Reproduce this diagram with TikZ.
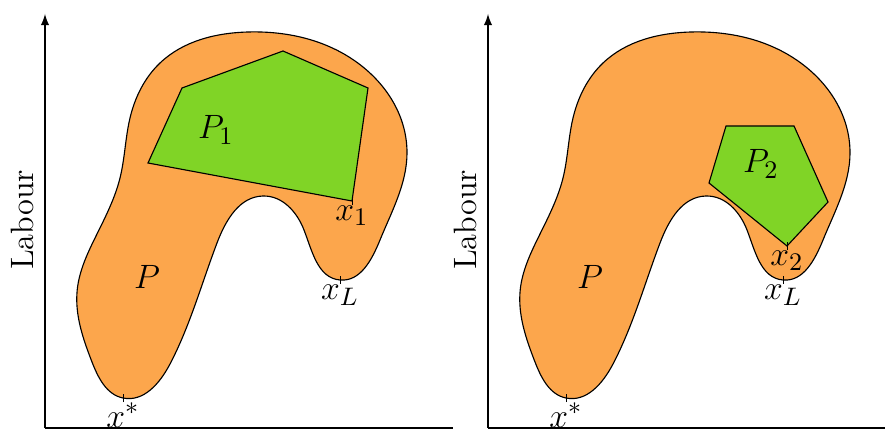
\documentclass[11pt,tikz,border=0pt]{standalone}
\definecolor{setorange}{RGB}{252, 166, 76}
\definecolor{setgreen}{RGB}{128, 212, 38}
\usepackage{amsmath}
\usetikzlibrary{hobby}

% outline of the feasible set P, drawn in both panels
\newcommand{\blobP}{([closed]3.075,0.9) .. (4.25,1.75) .. (5.425,4.775) .. (6.575,5.95)
  .. (7.6,5.1) .. (8.5,3.85) .. (9.5,4.85) .. (10.175,7.025) .. (8.6,9.5)
  .. (6.2,10.05) .. (4.0,9.275) .. (3.25,7.9) .. (3.0,6.4) .. (2.4,4.95)
  .. (1.93,3.6) .. (2.3,1.8)}

\tikzset{
  axis/.style={thin, -latex},
  region/.style={fill=setorange, draw=black, thin, use Hobby shortcut},
  subregion/.style={fill=setgreen, draw=black, thin},
  tick/.style={very thin},
  lbl/.style={font=\fontsize{13pt}{16pt}\selectfont},
  axislbl/.style={rotate=90, font=\fontsize{11.5pt}{14pt}\selectfont},
}

\begin{document}
\begin{tikzpicture}[scale=0.5]
  \useasboundingbox (0,0) rectangle (22.125,10.85);

  % left panel
  \coordinate (O1) at (1.125,0.15);
  \coordinate (Y1) at (1.125,10.5);
  \coordinate (X1) at (11.325,0.15);
  \draw[axis] (O1) -- (Y1);
  \draw[thin] (O1) -- (X1);
  \node[axislbl] (lab1) at (0.55,5.35) {Labour};
  \draw[region] \blobP;
  \coordinate (xs1) at (3.075,0.9);
  \coordinate (xL1) at (8.5,3.85);
  \coordinate (v1) at (8.8,5.825);
  \draw[subregion] (4.55,8.65) -- (7.075,9.575) -- (9.2,8.65) -- (v1) -- (3.7,6.775) -- cycle;
  \draw[tick] (xs1) ++(0,-0.1) -- ++(0,0.2);
  \draw[tick] (xL1) ++(0,-0.1) -- ++(0,0.2);
  \draw[tick] (v1) ++(0,-0.1) -- ++(0,0.2);
  \node[lbl] (P1) at (5.4,7.6) {$P_1$};
  \node[lbl] (P) at (3.675,3.925) {$P$};
  \node[lbl, below=-2pt] (xsl1) at (xs1) {$x^*$};
  \node[lbl, below=-2pt] (xLl1) at (xL1) {$x_L$};
  \node[lbl, below=-2pt] (x1l) at (v1) {$x_1$};

  % right panel
  \begin{scope}[shift={(11.075,0)}]
    \coordinate (O2) at (1.125,0.15);
    \coordinate (Y2) at (1.125,10.5);
    \coordinate (X2) at (11.05,0.15);
    \draw[axis] (O2) -- (Y2);
    \draw[thin] (O2) -- (X2);
    \node[axislbl] (lab2) at (0.55,5.35) {Labour};
    \draw[region] \blobP;
    \coordinate (xs2) at (3.075,0.9);
    \coordinate (xL2) at (8.5,3.85);
    \coordinate (v2) at (8.6,4.7);
    \draw[subregion] (7.075,7.7) -- (8.775,7.7) -- (9.625,5.8) -- (v2) -- (6.65,6.275) -- cycle;
    \draw[tick] (xs2) ++(0,-0.1) -- ++(0,0.2);
    \draw[tick] (xL2) ++(0,-0.1) -- ++(0,0.2);
    \draw[tick] (v2) ++(0,-0.1) -- ++(0,0.2);
    \node[lbl] (P2) at (7.95,6.75) {$P_2$};
    \node[lbl] (Pr) at (3.675,3.925) {$P$};
    \node[lbl, below=-2pt] (xsl2) at (xs2) {$x^*$};
    \node[lbl, below=-2pt] (xLl2) at (xL2) {$x_L$};
    \node[lbl, below=-2pt] (x2l) at (v2) {$x_2$};
  \end{scope}
\end{tikzpicture}
\end{document}
